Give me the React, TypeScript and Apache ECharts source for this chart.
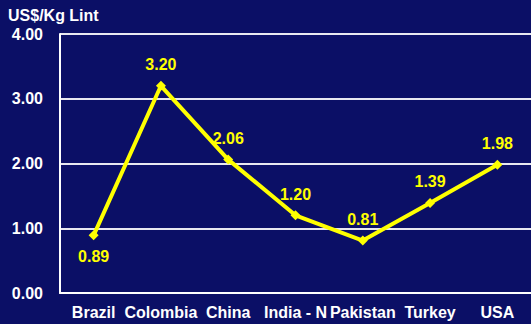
import React, { useEffect, useRef } from "react";
import * as echarts from "echarts";

const categories = ["Brazil", "Colombia", "China", "India - N", "Pakistan", "Turkey", "USA"];
const prices = [0.89, 3.2, 2.06, 1.2, 0.81, 1.39, 1.98];
const labelPositions = ["bottom", "top", "top", "top", "top", "top", "top"];
const yTicks = [0, 1, 2, 3, 4];

export default function App() {
  const ref = useRef<HTMLDivElement>(null);
  useEffect(() => {
    const chart = echarts.init(ref.current!, undefined, { renderer: "svg" });
    const font = "Liberation Sans, Arial, sans-serif";
    chart.setOption({
      animation: false,
      backgroundColor: "#0b0f66",
      title: {
        text: "US$/Kg Lint",
        left: 8,
        top: 7,
        padding: 0,
        textStyle: { color: "#ffffff", fontWeight: "bold", fontSize: 16, lineHeight: 16, fontFamily: font },
      },
      grid: { left: 60, right: -4, top: 34, bottom: 31, containLabel: false },
      xAxis: {
        type: "category",
        data: categories,
        boundaryGap: true,
        axisLine: { show: true, lineStyle: { color: "#ffffff", width: 2 } },
        axisTick: { show: false },
        axisLabel: {
          color: "#ffffff",
          fontWeight: "bold",
          fontSize: 16,
          fontFamily: font,
          margin: 11,
          interval: 0,
        },
      },
      yAxis: {
        type: "value",
        min: yTicks[0],
        max: yTicks[yTicks.length - 1],
        interval: 1,
        axisLine: { show: true, lineStyle: { color: "#ffffff", width: 2 } },
        axisTick: { show: false },
        splitLine: { show: true, lineStyle: { color: "#e8e8f0", width: 2 } },
        axisLabel: {
          color: "#ffffff",
          fontWeight: "bold",
          fontSize: 16,
          lineHeight: 16,
          fontFamily: font,
          margin: 17,
          formatter: (v: number) => v.toFixed(2),
        },
      },
      series: [
        {
          type: "line",
          data: prices.map((v, i) => ({
            value: v,
            label: { position: labelPositions[i], distance: 8 },
          })),
          symbol: "diamond",
          symbolSize: 10,
          lineStyle: { color: "#ffff00", width: 4 },
          itemStyle: { color: "#ffff00" },
          label: {
            show: true,
            color: "#ffff00",
            fontWeight: "bold",
            fontSize: 16,
            fontFamily: font,
            formatter: (p: any) => p.value.toFixed(2),
          },
        },
      ],
    });
    return () => chart.dispose();
  }, []);
  return <div ref={ref} style={{ width: 531, height: 324, position: "absolute", left: 0, top: 0 }} />;
}
